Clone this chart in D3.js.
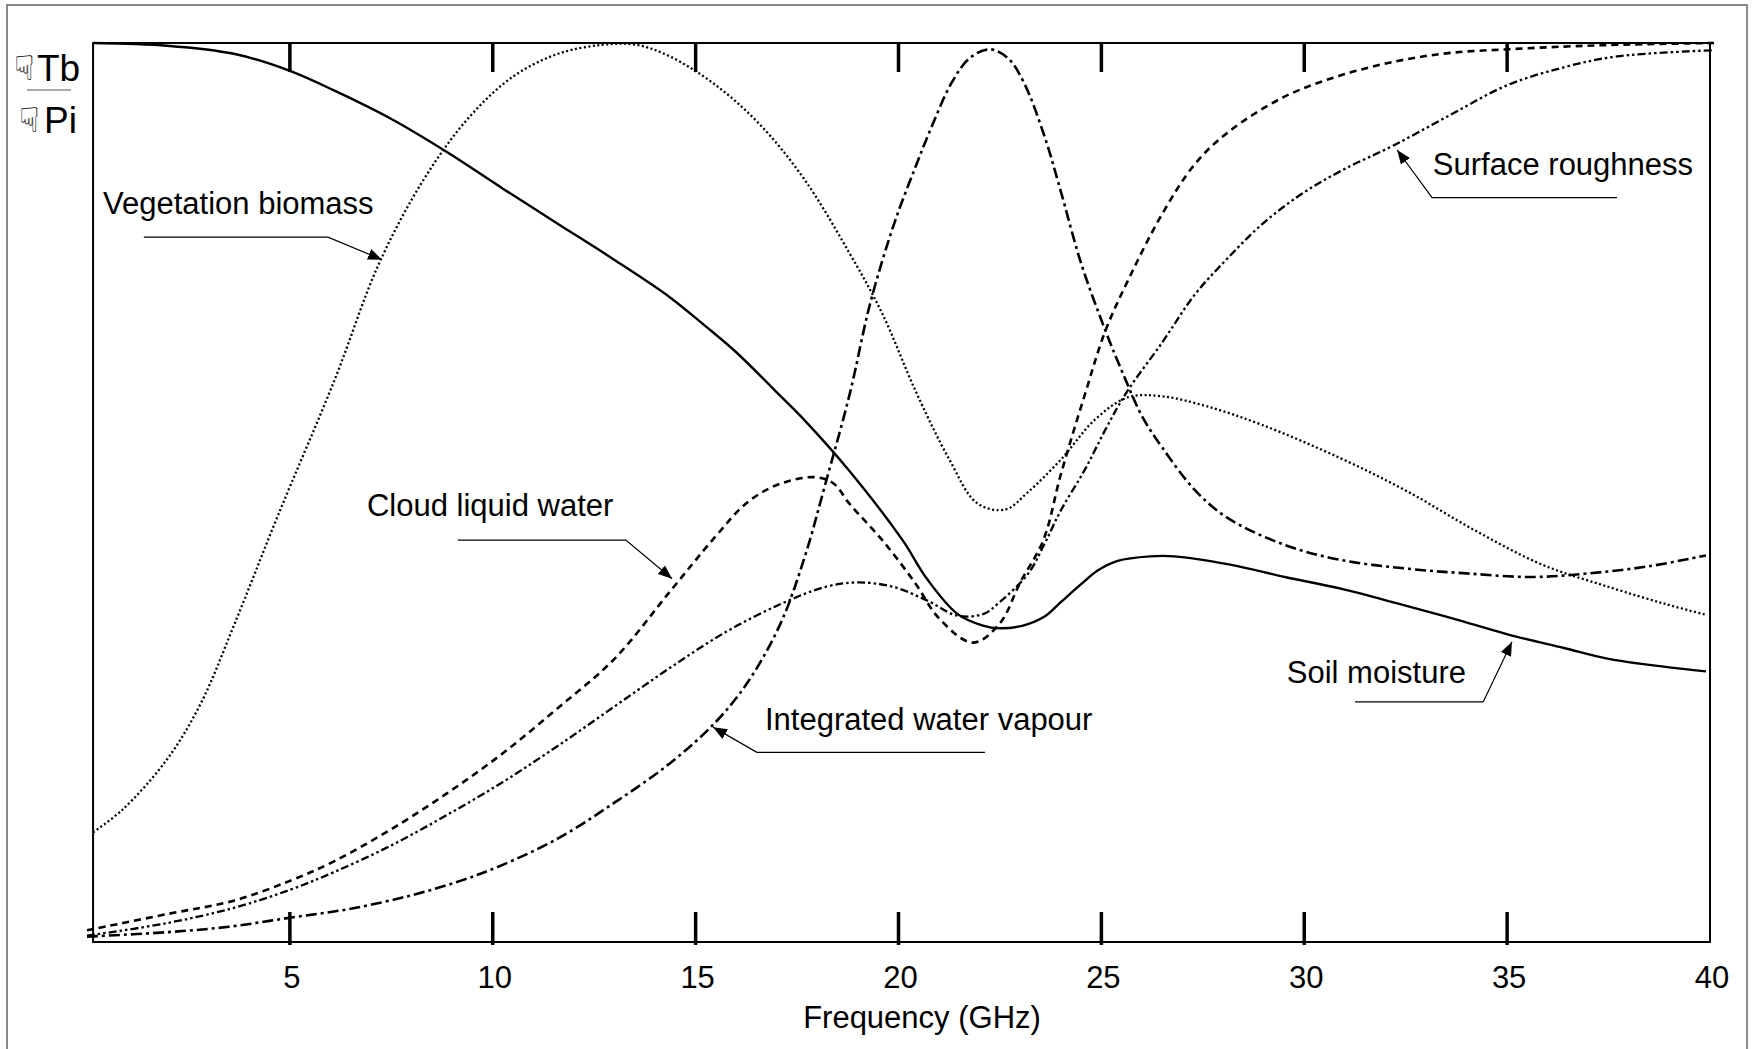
<!DOCTYPE html>
<html><head><meta charset="utf-8">
<script src="https://cdn.jsdelivr.net/npm/d3@7"></script>
<style>html,body{margin:0;padding:0;background:#fff;}svg{display:block;font-family:Arial,"Liberation Sans",sans-serif;}</style>
</head><body>
<svg id="chart" width="1752" height="1049"></svg>
<script>
// ---- data (frequency in GHz, relative sensitivity 0..1) ----
const soilFreq = [0.15,1.97,3.62,5.0,6.1,7.48,8.86,10.25,11.6,12.99,14.37,15.19,16.0,17.12,17.67,18.77,20.1,20.7,21.45,22.08,22.49,23.07,23.6,24.0,24.5,24.9,25.4,26.2,26.8,28.14,29.52,30.9,32.27,33.65,35.03,36.4,37.5,38.9,39.9];
const soilVal  = [1.0,0.997,0.988,0.969,0.947,0.916,0.879,0.838,0.799,0.759,0.717,0.687,0.656,0.606,0.581,0.525,0.447,0.404,0.365,0.352,0.349,0.352,0.362,0.378,0.398,0.413,0.424,0.429,0.429,0.42,0.406,0.393,0.377,0.36,0.342,0.327,0.315,0.306,0.301];

const vegFreq = [0.15,0.87,1.97,2.8,3.62,4.72,6.1,7.2,8.31,9.41,10.51,11.61,12.71,13.54,14.37,15.47,16.57,17.67,18.77,19.6,20.43,21.25,21.94,22.63,23.18,24.01,24.84,25.66,26.49,27.59,28.97,30.9,32.55,34.2,35.85,37.5,38.9,39.9];
const vegVal  = [0.122,0.147,0.203,0.265,0.352,0.476,0.625,0.755,0.849,0.917,0.963,0.988,0.998,0.998,0.985,0.954,0.91,0.849,0.768,0.699,0.612,0.537,0.488,0.481,0.5,0.537,0.581,0.606,0.607,0.596,0.575,0.538,0.501,0.458,0.42,0.395,0.376,0.364];

const iwvFreq = [0,2,3.5,5,6.5,8,9.2,10.2,11.6,13,14.4,15.5,16.3,17.1,17.7,18.2,18.8,19.3,19.9,20.4,20.8,21.3,21.75,22.25,22.7,23.1,23.6,24.0,24.5,25.1,25.6,26.0,26.5,27.3,28.1,29.5,30.9,32.6,34,35.6,37,38.5,39.9];
const iwvVal  = [0.006,0.011,0.017,0.027,0.037,0.052,0.068,0.085,0.115,0.155,0.2,0.245,0.29,0.355,0.43,0.51,0.61,0.71,0.8,0.86,0.905,0.955,0.983,0.993,0.983,0.955,0.896,0.835,0.755,0.68,0.625,0.585,0.55,0.503,0.472,0.442,0.425,0.415,0.41,0.406,0.41,0.418,0.43];

const cloudFreq = [0,1.97,3.62,5.0,6.1,7.48,8.86,10.25,11.6,13.0,14.37,15.47,16.3,17.1,17.95,18.4,18.8,19.6,20.4,21.0,21.83,22.49,23.0,23.57,24.0,24.6,25.1,25.7,26.5,27.3,28.1,29.5,30.9,32.3,33.6,35.0,36.4,37.7,40.1];
const cloudVal  = [0.013,0.031,0.046,0.068,0.09,0.125,0.165,0.21,0.26,0.315,0.39,0.45,0.49,0.51,0.517,0.51,0.487,0.447,0.4,0.36,0.333,0.354,0.4,0.447,0.52,0.61,0.68,0.74,0.81,0.865,0.9,0.94,0.964,0.98,0.989,0.993,0.996,0.998,1.0];

const roughFreq = [0,1.97,3.62,5.0,6.1,7.48,8.86,10.25,11.6,13.0,14.37,15.75,17.1,18.2,19.0,19.87,20.7,21.45,22.1,22.49,23.2,23.6,24.0,24.6,25.1,25.6,26.5,27.3,28.1,29.0,30.0,31.0,32.2,33.6,35.0,36.4,37.7,40.1];
const roughVal  = [0.007,0.021,0.038,0.058,0.078,0.107,0.141,0.178,0.218,0.262,0.305,0.345,0.376,0.395,0.4,0.395,0.38,0.363,0.365,0.378,0.41,0.443,0.48,0.526,0.57,0.61,0.667,0.72,0.76,0.8,0.834,0.86,0.886,0.92,0.953,0.973,0.985,0.992];

const xTicks = [5,10,15,20,25,30,35,40];
const xTitle = "Frequency (GHz)";

// annotations: label, text anchor, leader start, elbow, arrow tip (data units)
const annLabels = ["Vegetation biomass","Surface roughness","Soil moisture","Integrated water vapour","Cloud liquid water"];
const annText  = [[0.395,0.81],[33.17,0.853],[29.57,0.288],[16.71,0.236],[6.9,0.474]];
const annStart = [[1.40,0.784],[37.71,0.828],[31.25,0.267],[22.13,0.211],[9.14,0.447]];
const annElbow = [[5.94,0.784],[33.15,0.828],[34.41,0.267],[16.51,0.211],[13.28,0.447]];
const annTip   = [[7.27,0.759],[32.29,0.881],[35.12,0.334],[15.43,0.239],[14.42,0.404]];

// ---- layout ----
const svg = d3.select("#chart");
const x = d3.scaleLinear().domain([0,40]).range([87,1710]);
const y = d3.scaleLinear().domain([0,1]).range([942,43]);
const xLeft = 0.15;
const FS = 31;

// outer frame
svg.append("rect").attr("x",7).attr("y",5).attr("width",1740).attr("height",1060)
  .attr("fill","none").attr("stroke","#666").attr("stroke-width",1.5);

const defs = svg.append("defs");
defs.append("clipPath").attr("id","clip").append("rect")
  .attr("x",x(0)-2).attr("y",y(1)-3).attr("width",x(40)-x(0)+8).attr("height",y(0)-y(1)+6);
defs.append("marker").attr("id","arr").attr("viewBox","0 0 10 10").attr("refX",10).attr("refY",5)
  .attr("markerWidth",14).attr("markerHeight",14).attr("markerUnits","userSpaceOnUse").attr("orient","auto")
  .append("path").attr("d","M0,1 L10,5 L0,9 Z").attr("fill","#000");

// plot frame
svg.append("rect").attr("x",x(xLeft)).attr("y",y(1)).attr("width",x(40)-x(xLeft)).attr("height",y(0)-y(1))
  .attr("fill","none").attr("stroke","#000").attr("stroke-width",2);

// ticks (bottom and top, inward)
const tickVals = xTicks.filter(t=>t<40);
svg.append("g").selectAll("line").data(tickVals).join("line")
  .attr("x1",d=>x(d)).attr("x2",d=>x(d)).attr("y1",y(0)+3).attr("y2",y(0)-30)
  .attr("stroke","#000").attr("stroke-width",3.5);
svg.append("g").selectAll("line").data(tickVals).join("line")
  .attr("x1",d=>x(d)).attr("x2",d=>x(d)).attr("y1",y(1)-1).attr("y2",y(1)+29)
  .attr("stroke","#000").attr("stroke-width",3.5);
svg.append("g").selectAll("text").data(xTicks).join("text")
  .attr("x",d=>x(d)+2).attr("y",988).attr("text-anchor","middle")
  .attr("font-size",FS).attr("fill","#000").text(d=>d);
svg.append("text").attr("x",922).attr("y",1028).attr("text-anchor","middle")
  .attr("font-size",FS).attr("fill","#000").text(xTitle);

// y label: ∂Tb / ∂Pi rendered as in reference
const yl = svg.append("g");
yl.append("text").attr("x",14).attr("y",80).attr("font-family","DejaVu Sans").attr("font-size",34).text("☟");
yl.append("text").attr("x",37).attr("y",81).attr("font-size",37).text("Tb");
yl.append("line").attr("x1",27).attr("x2",71).attr("y1",90).attr("y2",90).attr("stroke","#555").attr("stroke-width",1.2);
yl.append("text").attr("x",19).attr("y",132).attr("font-family","DejaVu Sans").attr("font-size",34).text("☟");
yl.append("text").attr("x",44).attr("y",133).attr("font-size",37).text("Pi");

// curves
const line = d3.line().x(d=>x(d[0])).y(d=>y(d[1])).curve(d3.curveCatmullRom.alpha(0.5));
const series = [
  {f:soilFreq, v:soilVal, dash:null, w:2.4},
  {f:vegFreq, v:vegVal, dash:"2,2.5", w:2.3},
  {f:iwvFreq, v:iwvVal, dash:"11,4,3,4", w:2.6},
  {f:cloudFreq, v:cloudVal, dash:"7,5", w:2.6},
  {f:roughFreq, v:roughVal, dash:"8,3,2.5,3,2.5,3", w:2.3}
];
const cg = svg.append("g").attr("clip-path","url(#clip)");
series.forEach(s=>{
  cg.append("path").datum(s.f.map((f,i)=>[f,s.v[i]]))
    .attr("d",line).attr("fill","none").attr("stroke","#000")
    .attr("stroke-width",s.w).attr("stroke-dasharray",s.dash);
});

// annotations
const ag = svg.append("g");
annLabels.forEach((lab,i)=>{
  ag.append("text").attr("x",x(annText[i][0])).attr("y",y(annText[i][1]))
    .attr("font-size",FS).attr("fill","#000").text(lab);
  ag.append("polyline")
    .attr("points",[annStart[i],annElbow[i],annTip[i]].map(p=>x(p[0])+","+y(p[1])).join(" "))
    .attr("fill","none").attr("stroke","#000").attr("stroke-width",1.2).attr("marker-end","url(#arr)");
});
</script>
</body></html>
